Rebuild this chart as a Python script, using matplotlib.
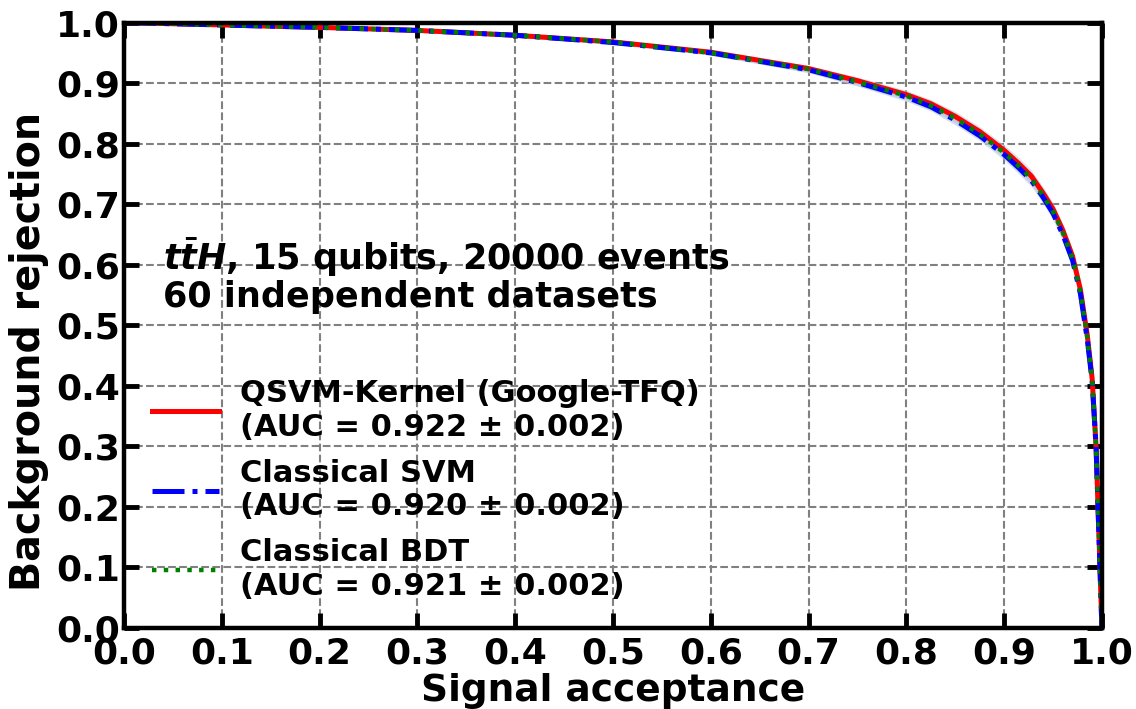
import matplotlib
matplotlib.use("Agg")
import matplotlib.pyplot as plt

plt.rcParams["font.family"] = ["DejaVu Sans"]
plt.rcParams["font.weight"] = "bold"
plt.rcParams["mathtext.fontset"] = "custom"
plt.rcParams["mathtext.rm"] = "DejaVu Sans:bold"
plt.rcParams["mathtext.it"] = "DejaVu Sans:bold:italic"
plt.rcParams["mathtext.bf"] = "DejaVu Sans:bold"

# ROC curves
sig_acc = [0.0, 0.05, 0.1, 0.2, 0.3, 0.4, 0.5, 0.6, 0.7, 0.75, 0.8, 0.825, 0.85, 0.875,
           0.9, 0.915, 0.928, 0.94, 0.95, 0.96, 0.97, 0.978, 0.985, 0.99, 0.994, 0.996, 0.998, 1.0]
rej_qsvm = [1.0, 0.998, 0.996, 0.992, 0.987, 0.979, 0.968, 0.951, 0.924, 0.904, 0.881, 0.866, 0.845, 0.820,
            0.789, 0.767, 0.746, 0.718, 0.692, 0.657, 0.614, 0.559, 0.484, 0.412, 0.30, 0.20, 0.10, 0.0]
rej_svm = [1.0, 0.998, 0.996, 0.992, 0.987, 0.979, 0.967, 0.950, 0.922, 0.901, 0.877, 0.861, 0.839, 0.813,
           0.782, 0.760, 0.739, 0.711, 0.685, 0.650, 0.607, 0.552, 0.477, 0.408, 0.30, 0.20, 0.10, 0.0]
rej_bdt = [1.0, 0.998, 0.996, 0.992, 0.987, 0.979, 0.968, 0.950, 0.923, 0.902, 0.879, 0.863, 0.842, 0.816,
           0.785, 0.763, 0.742, 0.714, 0.688, 0.653, 0.610, 0.555, 0.480, 0.410, 0.30, 0.20, 0.10, 0.0]
band = [0.0, 0.001, 0.001, 0.002, 0.002, 0.003, 0.003, 0.004, 0.005, 0.006, 0.007, 0.007, 0.008, 0.008,
        0.009, 0.010, 0.010, 0.010, 0.011, 0.011, 0.011, 0.012, 0.012, 0.012, 0.012, 0.010, 0.006, 0.0]

labels = ["QSVM-Kernel (Google-TFQ)\n(AUC = 0.922 ± 0.002)",
          "Classical SVM\n(AUC = 0.920 ± 0.002)",
          "Classical BDT\n(AUC = 0.921 ± 0.002)"]
ticks = [0.0, 0.1, 0.2, 0.3, 0.4, 0.5, 0.6, 0.7, 0.8, 0.9, 1.0]

fig = plt.figure(figsize=(11.36, 7.09), dpi=100)
ax = fig.add_axes([0.1092, 0.1142, 0.8608, 0.8540])

for rej in [rej_qsvm, rej_svm, rej_bdt]:
    lo = [r - b for r, b in zip(rej, band)]
    hi = [r + b for r, b in zip(rej, band)]
    ax.fill_between(sig_acc, lo, hi, color="lightsteelblue", alpha=0.5, lw=0)

ax.plot(sig_acc, rej_qsvm, color="red", lw=3.6, ls="-", label=labels[0])
ax.plot(sig_acc, rej_svm, color="blue", lw=3.6, ls="-.", label=labels[1])
ax.plot(sig_acc, rej_bdt, color="green", lw=3.2, ls=":", label=labels[2])

ax.set_xlim(0, 1)
ax.set_ylim(0, 1)
ax.set_xticks(ticks)
ax.set_yticks(ticks)
ax.set_xticklabels([f"{t:.1f}" for t in ticks], fontsize=26, fontweight="bold")
ax.set_yticklabels([f"{t:.1f}" for t in ticks], fontsize=26, fontweight="bold")
ax.tick_params(axis="both", direction="in", length=11, width=3.5, top=True, right=True)
ax.tick_params(axis="x", pad=6)
ax.tick_params(axis="y", pad=3)
for sp in ax.spines.values():
    sp.set_linewidth(3.2)

ax.grid(True, color="gray", ls="--", lw=1.5)
ax.set_axisbelow(True)

ax.set_xlabel("Signal acceptance", fontsize=27, fontweight="bold", labelpad=2)
ax.set_ylabel("Background rejection", fontsize=28.5, fontweight="bold")
ax.yaxis.set_label_coords(-0.077, 0.457)

ax.text(0.04, 0.648, r"$t\bar{t}H$, 15 qubits, 20000 events" + "\n60 independent datasets",
        fontsize=25.2, fontweight="bold", va="top", ha="left", linespacing=1.05)

ax.legend(loc="lower left", bbox_to_anchor=(0.0, 0.0), frameon=False,
          prop={"size": 22, "weight": "bold"}, handlelength=2.2, handletextpad=0.7,
          labelspacing=0.55)

fig.savefig("out.png", dpi=100)
